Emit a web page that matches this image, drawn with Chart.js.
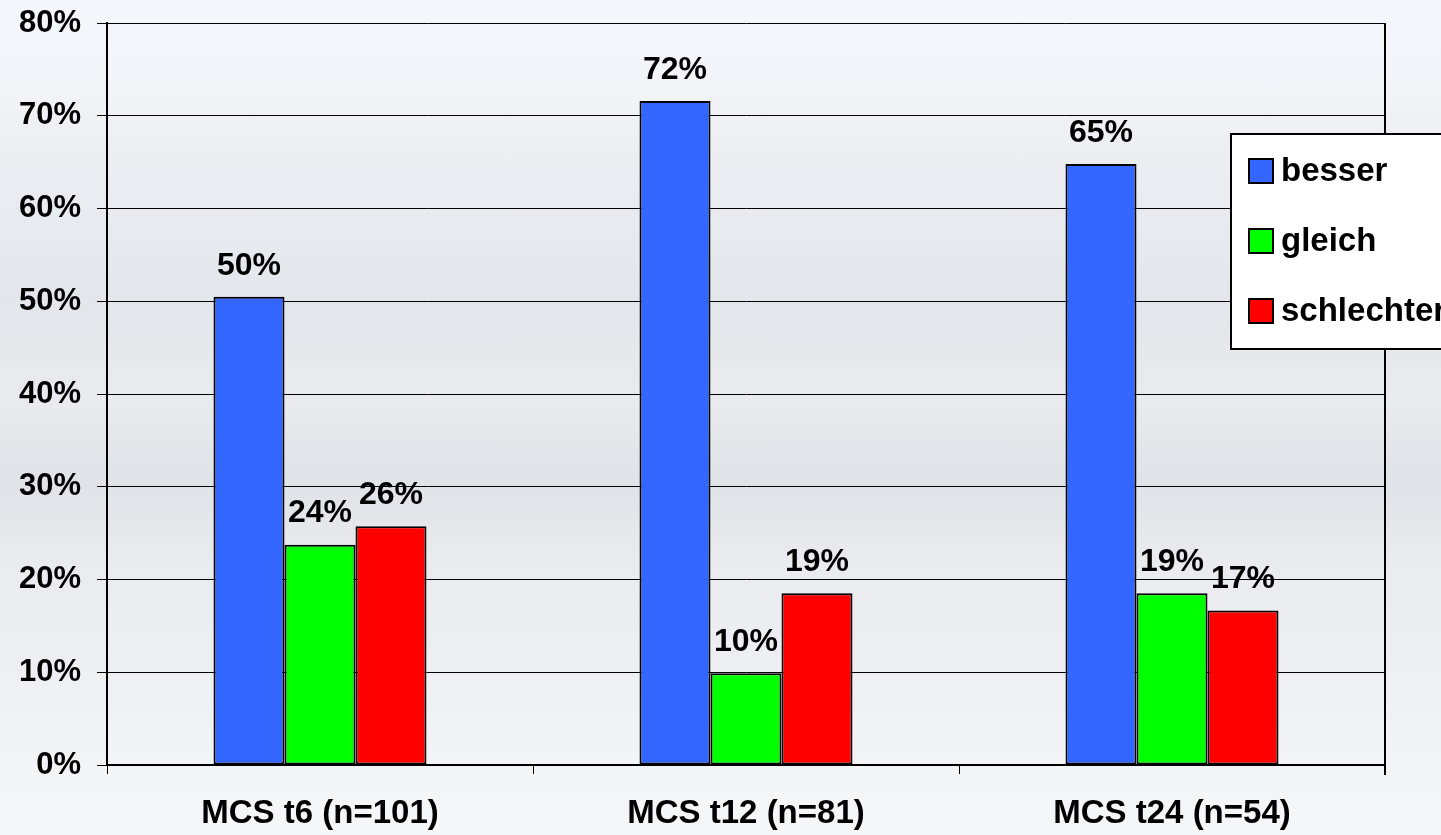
<!DOCTYPE html>
<html>
<head>
<meta charset="utf-8">
<title>MCS</title>
<script src="https://cdn.jsdelivr.net/npm/chart.js@4"></script>
<style>
  html, body { margin: 0; padding: 0; }
  body {
    width: 1441px; height: 835px; overflow: hidden;
    background: linear-gradient(to bottom, #f4f7fc 0px, #f2f4f8 90px, #eceef2 150px, #e7eaee 230px,
      #e3e6ea 300px, #e9ebee 400px, #e0e3e7 480px, #e9ebee 560px, #eceef1 640px, #f0f2f5 720px, #f6f7f9 835px);
  }
  canvas { display: block; }
</style>
</head>
<body>
<canvas id="grafico" width="1441" height="835"></canvas>
<script>
// Kategorien und Werte (Anteile in %)
const kategorien = ['MCS t6 (n=101)', 'MCS t12 (n=81)', 'MCS t24 (n=54)'];
const besser = [50.49, 71.6, 64.8];
const gleich = [23.76, 9.88, 18.52];
const schlechter = [25.74, 18.52, 16.67];
const yTicks = [0, 10, 20, 30, 40, 50, 60, 70, 80];

const schrift = '"Liberation Sans", Arial, sans-serif';

// Beschriftung über den Balken
const werteLabels = {
    id: 'werteLabels',
    afterDatasetsDraw(chart) {
        const ctx = chart.ctx;
        ctx.save();
        ctx.font = 'bold 32px ' + schrift;
        ctx.fillStyle = '#000';
        ctx.textAlign = 'center';
        ctx.textBaseline = 'middle';
        chart.data.datasets.forEach((ds, i) => {
            chart.getDatasetMeta(i).data.forEach((bar, j) => {
                ctx.fillText(Math.round(ds.data[j]) + '%', bar.x, bar.y - 31);
            });
        });
        ctx.restore();
    }
};

// Rahmen rechts + eigene Legende
const rahmenLegende = {
    id: 'rahmenLegende',
    afterDraw(chart) {
        const ctx = chart.ctx;
        const a = chart.chartArea;
        ctx.save();
        ctx.strokeStyle = '#000';
        ctx.lineWidth = 2;
        ctx.beginPath();
        ctx.moveTo(a.right, a.top);
        ctx.lineTo(a.right, a.bottom + 10);
        ctx.stroke();

        const lx = a.right - 154, ly = a.top + 111;
        ctx.fillStyle = '#fff';
        ctx.fillRect(lx, ly, 260, 215);
        ctx.strokeRect(lx, ly, 260, 215);

        ctx.font = 'bold 33px ' + schrift;
        ctx.textAlign = 'left';
        ctx.textBaseline = 'middle';
        chart.data.datasets.forEach((ds, i) => {
            const cy = ly + 37 + i * 70;
            ctx.fillStyle = ds.backgroundColor;
            ctx.fillRect(lx + 18, cy - 12, 24, 24);
            ctx.lineWidth = 2;
            ctx.strokeRect(lx + 18, cy - 12, 24, 24);
            ctx.fillStyle = '#000';
            ctx.fillText(ds.label, lx + 50, cy + 1);
        });
        ctx.restore();
    }
};

const ctx = document.getElementById('grafico').getContext('2d');
new Chart(ctx, {
    type: 'bar',
    data: {
        labels: kategorien,
        datasets: [
            { label: 'besser', data: besser, backgroundColor: '#3366ff' },
            { label: 'gleich', data: gleich, backgroundColor: '#00ff00' },
            { label: 'schlechter', data: schlechter, backgroundColor: '#ff0000' }
        ]
    },
    options: {
        responsive: false,
        animation: false,
        devicePixelRatio: 1,
        layout: { padding: { top: 23, right: 56, left: 0, bottom: 0 } },
        datasets: {
            bar: {
                categoryPercentage: 0.5,
                barPercentage: 1,
                borderColor: '#000',
                borderWidth: 2,
                borderSkipped: false
            }
        },
        plugins: {
            legend: { display: false },
            tooltip: { enabled: false }
        },
        scales: {
            x: {
                grid: { display: true, drawOnChartArea: false, drawTicks: true, tickLength: 9, color: '#000', lineWidth: 1 },
                border: { display: true, color: '#000', width: 2 },
                ticks: { color: '#000', font: { family: schrift, size: 33, weight: 'bold' }, padding: 20, maxRotation: 0 },
                afterFit(scale) { scale.height = 70; scale.paddingLeft = 0; scale.paddingRight = 0; }
            },
            y: {
                min: 0,
                max: 80,
                afterBuildTicks(scale) { scale.ticks = yTicks.map(v => ({ value: v })); },
                grid: { color: '#000', lineWidth: 1, tickLength: 10 },
                border: { display: true, color: '#000', width: 2 },
                ticks: {
                    color: '#000',
                    font: { family: schrift, size: 31, weight: 'bold' },
                    padding: 16,
                    callback: v => v + '%'
                },
                afterFit(scale) { scale.width = 107; scale.paddingTop = 0; scale.paddingBottom = 0; }
            }
        }
    },
    plugins: [werteLabels, rahmenLegende]
});
</script>
</body>
</html>
